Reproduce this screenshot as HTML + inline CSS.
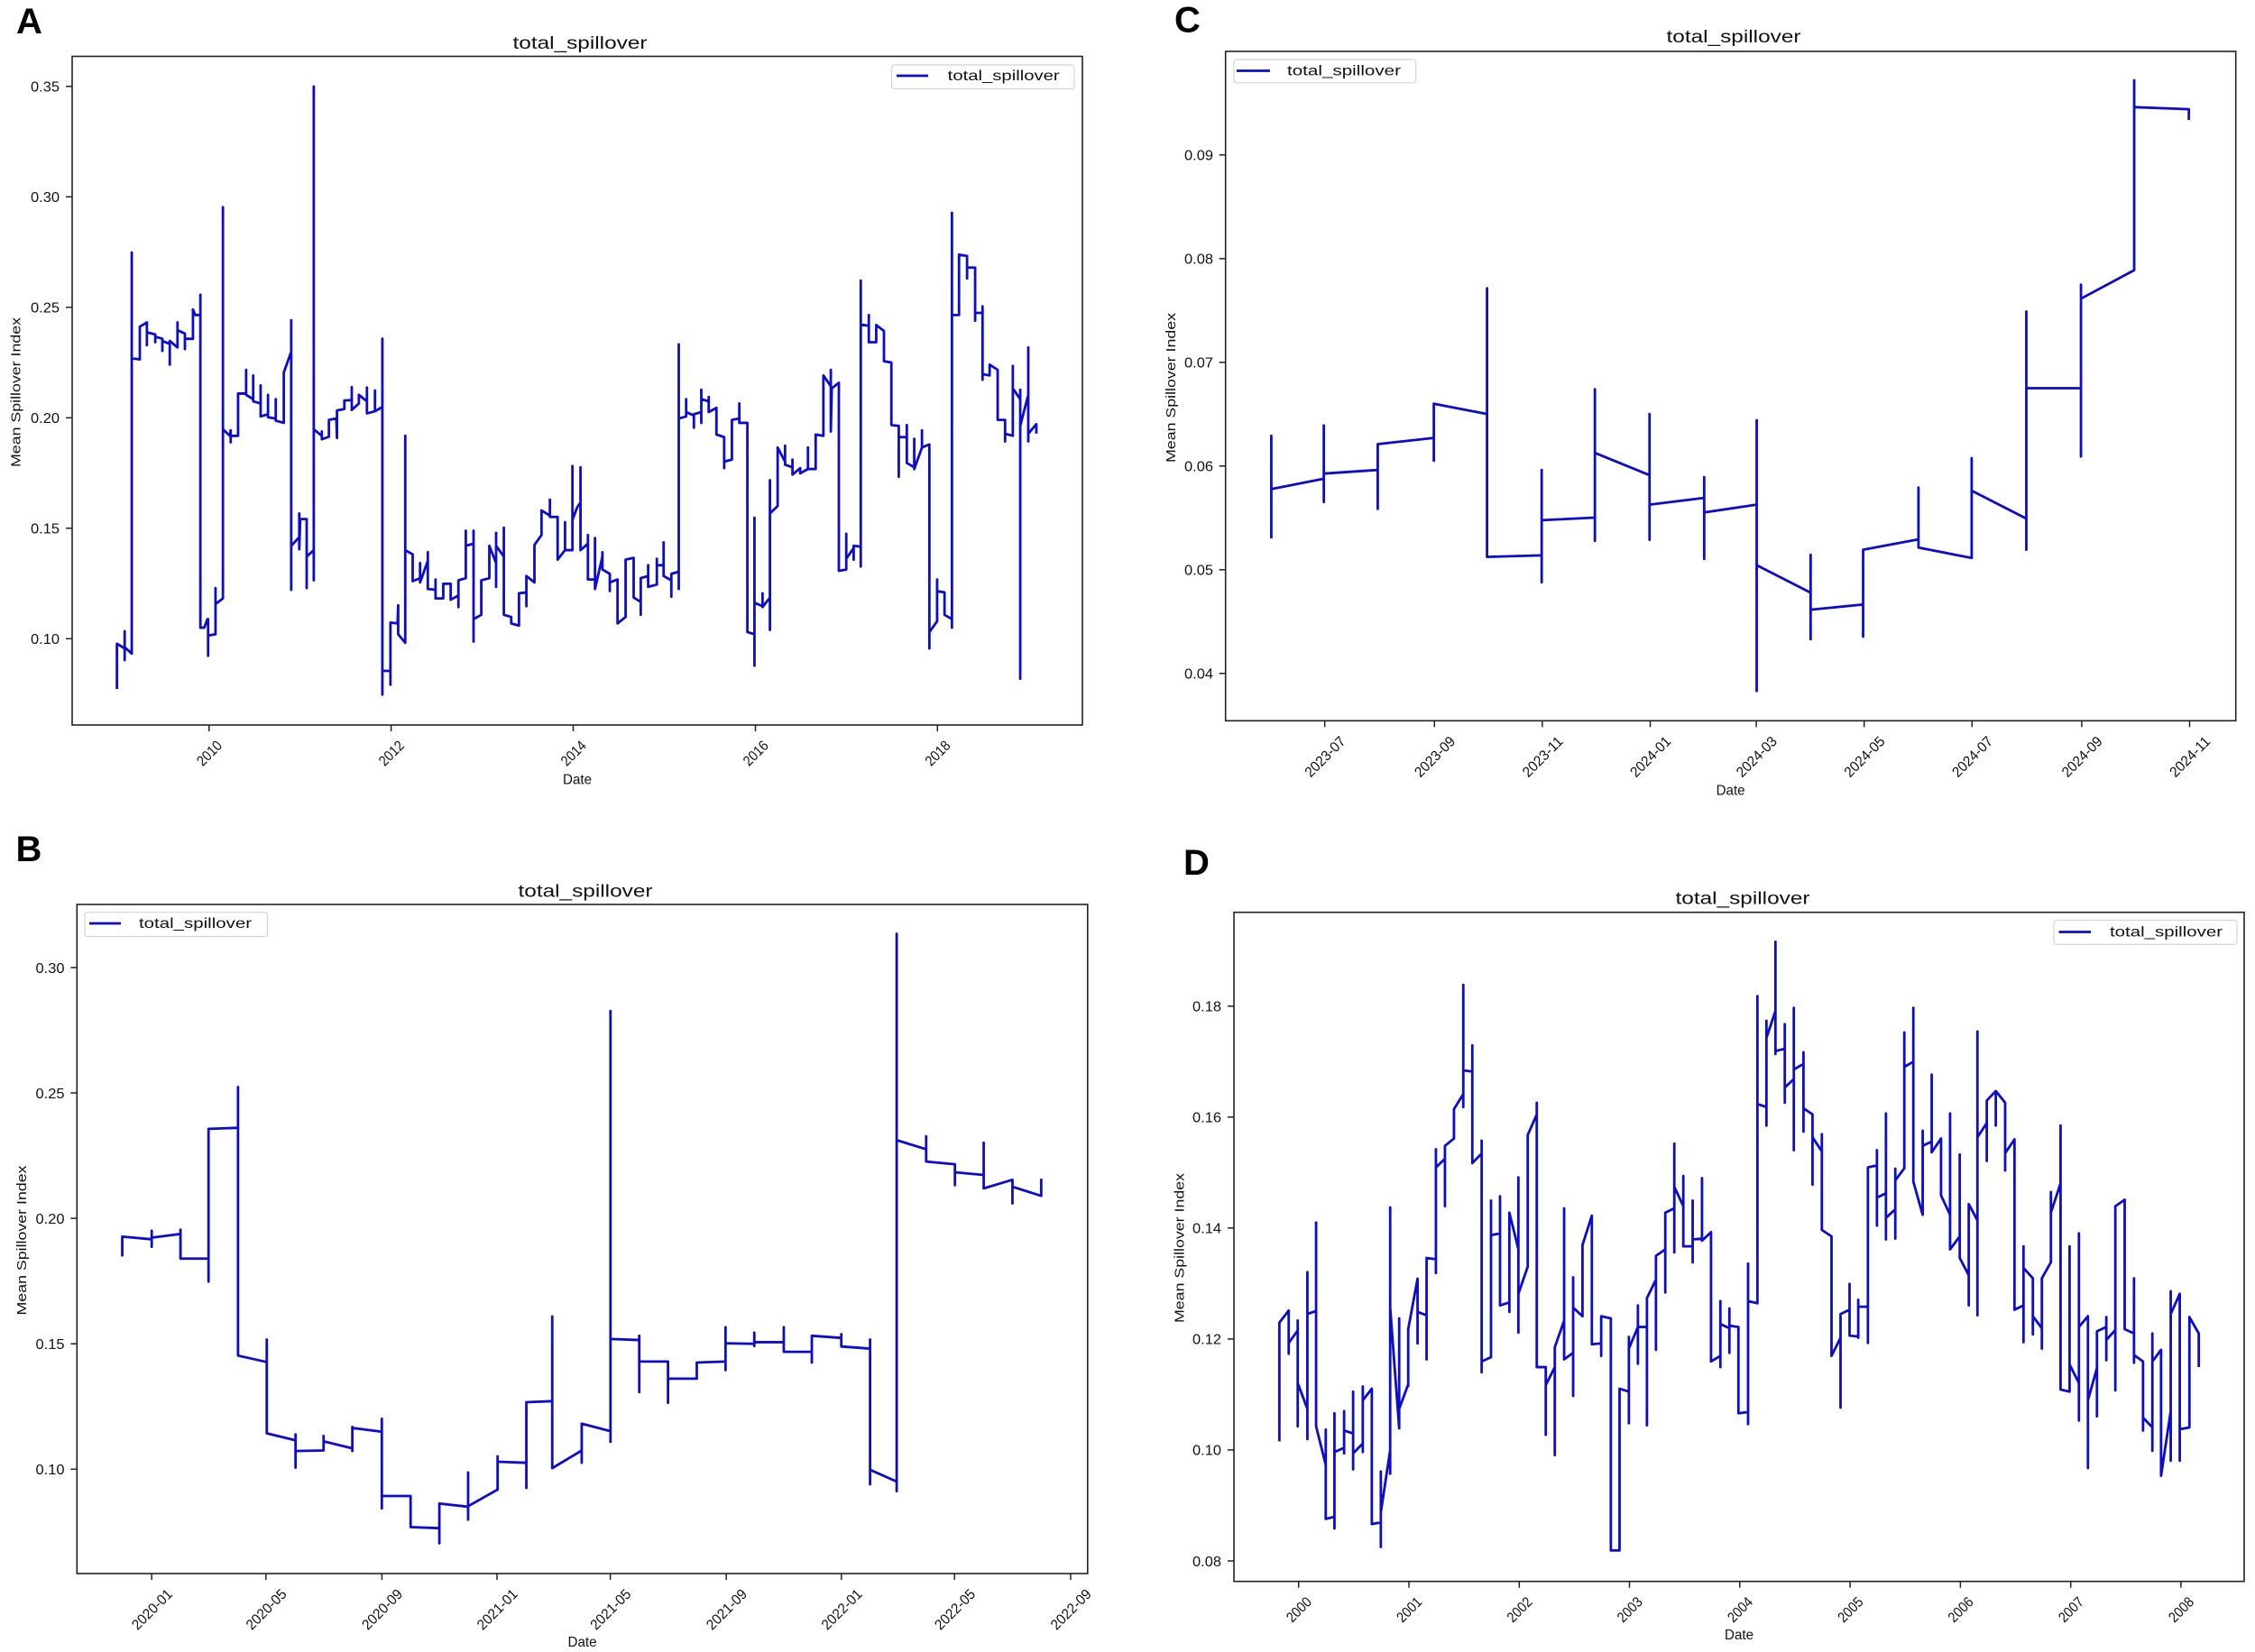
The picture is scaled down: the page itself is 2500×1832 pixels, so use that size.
<!DOCTYPE html>
<html><head><meta charset="utf-8"><style>
html,body{margin:0;padding:0;background:#fff;}
svg{display:block;}
text{font-family:"Liberation Sans","Noto Sans CJK SC",sans-serif;fill:#111;}
.tk{font-size:16px;}
.ttl{font-size:19px;}
.lab{font-size:16px;}
.yl{font-size:15px;}
.lg{font-size:16px;}
.let{font-size:40px;font-weight:bold;fill:#000;}
.ax{fill:none;stroke:#222;stroke-width:1.6;}
.tm{stroke:#222;stroke-width:1.5;}
.ser{fill:none;stroke:#0c0cd0;stroke-width:2.8;stroke-linejoin:round;vector-effect:non-scaling-stroke;}
.lgb{fill:#fff;stroke:#d4d4d4;stroke-width:1.2;}
.lgl{stroke:#0c0cd0;stroke-width:2.8;}
</style></head><body>
<svg width="2500" height="1832" viewBox="0 0 2500 1832" xmlns="http://www.w3.org/2000/svg">
<rect width="2500" height="1832" fill="#fff"/>

<!-- Panel letters -->
<text class="let" x="18" y="37">A</text>
<text class="let" x="17.5" y="955">B</text>
<text class="let" x="1302" y="35.6">C</text>
<text class="let" x="1312" y="970">D</text>

<!-- ================= PANEL A ================= -->
<text class="ttl" x="643" y="54" text-anchor="middle" textLength="149" lengthAdjust="spacingAndGlyphs">total_spillover</text>
<g transform="translate(80,60) scale(0.357143,0.478316)">
<polyline class="ser" points="139,1472 139,1367 163,1378 163,1338 163,1405 163,1375 185,1390 185,460 185,705 210,708 210,632 232,622 232,675 232,645 258,650 258,668 258,655 280,660 280,688 280,665 303,672 303,720 303,665 327,680 327,622 327,640 350,648 350,684 350,660 375,660 375,592 382,605 398,605 398,558 398,1330 410,1330 420,1310 422,1310 422,1395 422,1348 445,1345 445,1238 445,1275 468,1262 468,355 468,870 490,885 492,872 492,900 492,885 515,885 515,787 540,787 540,732 540,790 562,800 562,745 562,805 585,810 585,768 585,840 608,835 608,790 608,842 632,845 632,800 632,850 657,855 657,738 680,690 680,617 680,1242 680,1140 705,1120 705,1065 705,1148 708,1078 728,1078 728,1238 728,1165 750,1150 750,75 750,1220 750,870 775,885 775,875 775,893 797,887 797,848 820,845 822,890 822,826 845,823 845,803 868,802 868,772 868,825 890,810 890,790 915,805 915,773 915,833 940,828 940,780 940,828 963,818 963,660 963,1485 963,1430 988,1430 988,1462 988,1318 1010,1320 1012,1278 1012,1345 1034,1365 1034,885 1034,1150 1057,1160 1057,1222 1080,1215 1080,1180 1080,1225 1104,1175 1104,1155 1104,1240 1128,1242 1128,1218 1128,1262 1152,1262 1152,1228 1175,1228 1175,1265 1199,1255 1199,1282 1199,1220 1222,1215 1222,1105 1222,1140 1246,1135 1246,1105 1246,1362 1246,1310 1270,1300 1270,1220 1295,1215 1295,1140 1316,1180 1316,1110 1316,1235 1316,1140 1340,1165 1340,1098 1340,1300 1363,1305 1363,1320 1387,1325 1387,1250 1410,1248 1410,1280 1410,1210 1435,1225 1435,1138 1457,1115 1457,1058 1483,1070 1483,1033 1483,1073 1507,1073 1507,1172 1530,1150 1530,1085 1530,1150 1553,1150 1553,955 1553,1080 1568,1050"/>
</g>
<g transform="translate(640,60) scale(0.357143,0.478316)">
<polyline class="ser" points="0,1050 10,1040 10,958 10,1150 33,1135 33,1115 33,1218 55,1218 55,1122 55,1240 78,1165 78,1155 78,1195 101,1205 101,1245 101,1225 125,1218 125,1320 150,1305 150,1172 175,1168 175,1260 197,1270 197,1300 197,1215 220,1210 220,1185 220,1235 247,1230 247,1170 247,1185 268,1185 268,1132 268,1210 292,1220 292,1258 292,1205 315,1200 315,673 315,1240 315,845 338,840 338,800 338,830 362,838 362,866 362,835 385,830 385,778 385,855 385,800 408,805 408,795 408,830 432,820 432,882 456,888 456,960 456,945 480,940 480,848 503,845 503,810 503,855 528,855 528,1340 550,1345 550,1075 550,1418 550,1272 575,1280 575,1250 575,1282 598,1260 598,988 598,1335 598,1065 622,1048 622,912 645,945 645,908 645,952 668,958 668,940 668,975 692,960 692,972 716,962 716,912 716,962 740,962 740,882 764,885 764,745 787,770 787,732 787,875 790,775 812,762 812,1198 835,1195 835,1112 835,1170 858,1145 858,1172 858,1140 880,1142 880,525 880,1188 880,627 905,630 905,605 905,668 928,668 928,628 952,642 952,712 975,715 975,860 998,862 998,980 998,888 1023,888 1023,860 1023,948 1046,958 1046,892 1046,962 1070,912 1070,872 1070,912 1093,905 1093,1378 1093,1340 1117,1315 1117,1218 1117,1245 1140,1248 1140,1300 1163,1310 1163,368 1163,1330 1163,605 1185,605 1185,465 1210,468 1210,520 1210,495 1235,495 1235,618 1235,600 1258,600 1258,585 1258,755 1258,742 1280,745 1280,720 1305,732 1305,848 1328,848 1328,898 1328,880 1352,885 1352,723 1352,775 1375,800 1375,778 1375,1448 1375,862 1400,790 1400,680 1400,898 1400,880 1425,858 1425,880"/>
</g>
<rect class="ax" x="80" y="62.5" width="1120" height="741.5"/>
<!-- legend A -->
<rect class="lgb" x="988.5" y="72" width="202.5" height="26.5" rx="3"/>
<line class="lgl" x1="994" y1="84" x2="1029" y2="84"/>
<text class="lg" x="1050.7" y="89" textLength="124" lengthAdjust="spacingAndGlyphs">total_spillover</text>
<!-- y ticks A -->
<g class="tm">
<line x1="73" y1="95.8" x2="80" y2="95.8"/><line x1="73" y1="218.3" x2="80" y2="218.3"/><line x1="73" y1="340.8" x2="80" y2="340.8"/><line x1="73" y1="463.3" x2="80" y2="463.3"/><line x1="73" y1="585.8" x2="80" y2="585.8"/><line x1="73" y1="708.3" x2="80" y2="708.3"/>
<line x1="231.8" y1="804" x2="231.8" y2="811"/><line x1="433.6" y1="804" x2="433.6" y2="811"/><line x1="635.5" y1="804" x2="635.5" y2="811"/><line x1="837.5" y1="804" x2="837.5" y2="811"/><line x1="1039.3" y1="804" x2="1039.3" y2="811"/>
</g>
<g class="tk" text-anchor="end">
<text x="66" y="101.6" textLength="32" lengthAdjust="spacingAndGlyphs">0.35</text>
<text x="66" y="224.1" textLength="32" lengthAdjust="spacingAndGlyphs">0.30</text>
<text x="66" y="346.6" textLength="32" lengthAdjust="spacingAndGlyphs">0.25</text>
<text x="66" y="469.1" textLength="32" lengthAdjust="spacingAndGlyphs">0.20</text>
<text x="66" y="591.6" textLength="32" lengthAdjust="spacingAndGlyphs">0.15</text>
<text x="66" y="714.1" textLength="32" lengthAdjust="spacingAndGlyphs">0.10</text>
</g>
<g class="tk" text-anchor="middle">
<text x="231.8" y="840.8" transform="rotate(-45 231.8 835)" textLength="32" lengthAdjust="spacingAndGlyphs">2010</text>
<text x="433.6" y="840.8" transform="rotate(-45 433.6 835)" textLength="32" lengthAdjust="spacingAndGlyphs">2012</text>
<text x="635.5" y="840.8" transform="rotate(-45 635.5 835)" textLength="32" lengthAdjust="spacingAndGlyphs">2014</text>
<text x="837.5" y="840.8" transform="rotate(-45 837.5 835)" textLength="32" lengthAdjust="spacingAndGlyphs">2016</text>
<text x="1039.3" y="840.8" transform="rotate(-45 1039.3 835)" textLength="32" lengthAdjust="spacingAndGlyphs">2018</text>
</g>
<text class="lab" x="640" y="869.5" text-anchor="middle" textLength="32" lengthAdjust="spacingAndGlyphs">Date</text>
<text class="yl" x="22.5" y="435" text-anchor="middle" transform="rotate(-90 22.5 435)" textLength="166" lengthAdjust="spacingAndGlyphs">Mean Spillover Index</text>

<!-- ================= PANEL C ================= -->
<text class="ttl" x="1922" y="47" text-anchor="middle" textLength="149" lengthAdjust="spacingAndGlyphs">total_spillover</text>
<g transform="translate(1250,0) scale(0.797194,0.573980)">
<polyline class="ser" points="200,1040 200,842 200,945 273,925 273,822 273,970 273,915 348,908 348,983 348,858 426,846 426,890 426,780 500,800 500,557 500,1076 576,1073 576,908 576,1125 576,1005 650,1000 650,752 650,1045 650,875 726,918 726,800 726,1043 726,975 802,962 802,922 802,1080 802,990 875,975 875,812 875,1335 875,1092 950,1145 950,1072 950,1235 950,1178 1023,1168 1023,1230 1023,1062 1100,1042 1100,942 1100,1058 1174,1078 1174,885 1174,948 1250,1002 1250,1062 1250,602 1250,750 1326,750 1326,882 1326,550 1326,577 1400,522 1400,155 1400,207 1476,211 1476,232"/>
</g>
<rect class="ax" x="1358.7" y="57" width="1120" height="742.3"/>
<rect class="lgb" x="1368" y="66" width="201.7" height="25.8" rx="3"/>
<line class="lgl" x1="1371" y1="78.5" x2="1408" y2="78.5"/>
<text class="lg" x="1427" y="83.5" textLength="126" lengthAdjust="spacingAndGlyphs">total_spillover</text>
<g class="tm">
<line x1="1351.7" y1="171.8" x2="1358.7" y2="171.8"/><line x1="1351.7" y1="286.8" x2="1358.7" y2="286.8"/><line x1="1351.7" y1="401.8" x2="1358.7" y2="401.8"/><line x1="1351.7" y1="516.8" x2="1358.7" y2="516.8"/><line x1="1351.7" y1="631.8" x2="1358.7" y2="631.8"/><line x1="1351.7" y1="746.8" x2="1358.7" y2="746.8"/>
<line x1="1468.7" y1="799.3" x2="1468.7" y2="806.3"/><line x1="1590.3" y1="799.3" x2="1590.3" y2="806.3"/><line x1="1709.9" y1="799.3" x2="1709.9" y2="806.3"/><line x1="1829.5" y1="799.3" x2="1829.5" y2="806.3"/><line x1="1947.1" y1="799.3" x2="1947.1" y2="806.3"/><line x1="2066.7" y1="799.3" x2="2066.7" y2="806.3"/><line x1="2186.3" y1="799.3" x2="2186.3" y2="806.3"/><line x1="2307.9" y1="799.3" x2="2307.9" y2="806.3"/><line x1="2427.5" y1="799.3" x2="2427.5" y2="806.3"/>
</g>
<g class="tk" text-anchor="end">
<text x="1345" y="177.6" textLength="32" lengthAdjust="spacingAndGlyphs">0.09</text>
<text x="1345" y="292.6" textLength="32" lengthAdjust="spacingAndGlyphs">0.08</text>
<text x="1345" y="407.6" textLength="32" lengthAdjust="spacingAndGlyphs">0.07</text>
<text x="1345" y="522.6" textLength="32" lengthAdjust="spacingAndGlyphs">0.06</text>
<text x="1345" y="637.6" textLength="32" lengthAdjust="spacingAndGlyphs">0.05</text>
<text x="1345" y="752.6" textLength="32" lengthAdjust="spacingAndGlyphs">0.04</text>
</g>
<g class="tk" text-anchor="middle">
<text x="1468.7" y="844.6" transform="rotate(-45 1468.7 838.8)" textLength="56" lengthAdjust="spacingAndGlyphs">2023-07</text>
<text x="1590.3" y="844.6" transform="rotate(-45 1590.3 838.8)" textLength="56" lengthAdjust="spacingAndGlyphs">2023-09</text>
<text x="1709.9" y="844.6" transform="rotate(-45 1709.9 838.8)" textLength="56" lengthAdjust="spacingAndGlyphs">2023-11</text>
<text x="1829.5" y="844.6" transform="rotate(-45 1829.5 838.8)" textLength="56" lengthAdjust="spacingAndGlyphs">2024-01</text>
<text x="1947.1" y="844.6" transform="rotate(-45 1947.1 838.8)" textLength="56" lengthAdjust="spacingAndGlyphs">2024-03</text>
<text x="2066.7" y="844.6" transform="rotate(-45 2066.7 838.8)" textLength="56" lengthAdjust="spacingAndGlyphs">2024-05</text>
<text x="2186.3" y="844.6" transform="rotate(-45 2186.3 838.8)" textLength="56" lengthAdjust="spacingAndGlyphs">2024-07</text>
<text x="2307.9" y="844.6" transform="rotate(-45 2307.9 838.8)" textLength="56" lengthAdjust="spacingAndGlyphs">2024-09</text>
<text x="2427.5" y="844.6" transform="rotate(-45 2427.5 838.8)" textLength="56" lengthAdjust="spacingAndGlyphs">2024-11</text>
</g>
<text class="lab" x="1918.6" y="881.5" text-anchor="middle" textLength="32" lengthAdjust="spacingAndGlyphs">Date</text>
<text class="yl" x="1302.8" y="430" text-anchor="middle" transform="rotate(-90 1302.8 430)" textLength="166" lengthAdjust="spacingAndGlyphs">Mean Spillover Index</text>

<!-- ================= PANEL B ================= -->
<text class="ttl" x="649" y="994.5" text-anchor="middle" textLength="149" lengthAdjust="spacingAndGlyphs">total_spillover</text>
<g transform="translate(0,900) scale(0.797194,0.594388)">
<polyline class="ser" points="170,830 170,793 211,798 211,782 211,812 211,795 251,788 251,780 251,834 290,834 290,877 290,592 331,590 331,514 331,1015 371,1027 371,985 371,1160 411,1173 411,1162 411,1224 411,1193 450,1192 450,1165 450,1175 490,1188 490,1148 490,1193 490,1150 531,1157 531,1133 531,1300 531,1277 571,1277 571,1335 611,1337 611,1365 611,1291 651,1297 651,1233 651,1321 651,1296 692,1265 692,1203 692,1213 732,1215 732,1262 732,1102 768,1100 768,942 768,1225 809,1192 809,1215 809,1142 849,1156 849,1176 849,372 849,984 889,986 889,978 889,1083 889,1026 929,1026 929,1103 929,1058 969,1058 969,1028 1009,1026 1009,962 1009,1042 1009,992 1049,993 1049,972 1049,997 1049,990 1090,990 1090,962 1090,1008 1129,1008 1129,1028 1129,978 1170,982 1170,975 1170,998 1210,1002 1210,985 1210,1255 1210,1228 1247,1250 1247,1268 1247,228 1247,613 1288,630 1288,606 1288,653 1328,658 1328,697 1328,673 1368,678 1368,618 1368,703 1408,687 1408,731 1408,700 1448,717 1448,685"/>
</g>
<rect class="ax" x="85.3" y="1003" width="1120.5" height="742"/>
<rect class="lgb" x="94" y="1011.7" width="202.5" height="26.8" rx="3"/>
<line class="lgl" x1="99" y1="1024" x2="134" y2="1024"/>
<text class="lg" x="154" y="1029" textLength="125" lengthAdjust="spacingAndGlyphs">total_spillover</text>
<g class="tm">
<line x1="78.3" y1="1073" x2="85.3" y2="1073"/><line x1="78.3" y1="1212" x2="85.3" y2="1212"/><line x1="78.3" y1="1351.1" x2="85.3" y2="1351.1"/><line x1="78.3" y1="1490.2" x2="85.3" y2="1490.2"/><line x1="78.3" y1="1629.3" x2="85.3" y2="1629.3"/>
<line x1="168.2" y1="1745" x2="168.2" y2="1752"/><line x1="294.8" y1="1745" x2="294.8" y2="1752"/><line x1="423.4" y1="1745" x2="423.4" y2="1752"/><line x1="551" y1="1745" x2="551" y2="1752"/><line x1="676.6" y1="1745" x2="676.6" y2="1752"/><line x1="805.2" y1="1745" x2="805.2" y2="1752"/><line x1="932.8" y1="1745" x2="932.8" y2="1752"/><line x1="1058.3" y1="1745" x2="1058.3" y2="1752"/><line x1="1187" y1="1745" x2="1187" y2="1752"/>
</g>
<g class="tk" text-anchor="end">
<text x="71.5" y="1078.8" textLength="32" lengthAdjust="spacingAndGlyphs">0.30</text>
<text x="71.5" y="1217.8" textLength="32" lengthAdjust="spacingAndGlyphs">0.25</text>
<text x="71.5" y="1356.9" textLength="32" lengthAdjust="spacingAndGlyphs">0.20</text>
<text x="71.5" y="1496" textLength="32" lengthAdjust="spacingAndGlyphs">0.15</text>
<text x="71.5" y="1635.1" textLength="32" lengthAdjust="spacingAndGlyphs">0.10</text>
</g>
<g class="tk" text-anchor="middle">
<text x="168.2" y="1790.3" transform="rotate(-45 168.2 1784.5)" textLength="56" lengthAdjust="spacingAndGlyphs">2020-01</text>
<text x="294.8" y="1790.3" transform="rotate(-45 294.8 1784.5)" textLength="56" lengthAdjust="spacingAndGlyphs">2020-05</text>
<text x="423.4" y="1790.3" transform="rotate(-45 423.4 1784.5)" textLength="56" lengthAdjust="spacingAndGlyphs">2020-09</text>
<text x="551" y="1790.3" transform="rotate(-45 551 1784.5)" textLength="56" lengthAdjust="spacingAndGlyphs">2021-01</text>
<text x="676.6" y="1790.3" transform="rotate(-45 676.6 1784.5)" textLength="56" lengthAdjust="spacingAndGlyphs">2021-05</text>
<text x="805.2" y="1790.3" transform="rotate(-45 805.2 1784.5)" textLength="56" lengthAdjust="spacingAndGlyphs">2021-09</text>
<text x="932.8" y="1790.3" transform="rotate(-45 932.8 1784.5)" textLength="56" lengthAdjust="spacingAndGlyphs">2022-01</text>
<text x="1058.3" y="1790.3" transform="rotate(-45 1058.3 1784.5)" textLength="56" lengthAdjust="spacingAndGlyphs">2022-05</text>
<text x="1187" y="1790.3" transform="rotate(-45 1187 1784.5)" textLength="56" lengthAdjust="spacingAndGlyphs">2022-09</text>
</g>
<text class="lab" x="645.5" y="1826" text-anchor="middle" textLength="32" lengthAdjust="spacingAndGlyphs">Date</text>
<text class="yl" x="29" y="1375.5" text-anchor="middle" transform="rotate(-90 29 1375.5)" textLength="166" lengthAdjust="spacingAndGlyphs">Mean Spillover Index</text>

<!-- ================= PANEL D ================= -->
<text class="ttl" x="1932" y="1002.5" text-anchor="middle" textLength="149" lengthAdjust="spacingAndGlyphs">total_spillover</text>
<g transform="translate(1368,1010) scale(0.357143,0.478316)">
<polyline class="ser" points="141,1230 141,955 170,927 170,1027 170,1002 198,973 198,950 198,1195 198,1095 228,1155 228,838 228,1225 228,935 255,928 255,723 255,1195 285,1285 285,1203 285,1410 312,1405 312,1432 312,1165 312,1255 342,1245 342,1160 342,1258 342,1205 370,1212 370,1115 370,1295 370,1258 400,1235 400,1103 400,1255 400,1135 428,1108 428,1422 456,1418 456,1300 456,1475 456,1395 485,1250 485,688 485,1305 485,920 513,1200 513,945 513,1155 541,1098 541,972 541,1102 541,970 570,853 570,1003 570,930 598,938 598,1040 598,805 627,808 627,840 627,553 627,595 655,575 655,685 655,545 683,528 683,460 712,425 712,455 712,172 712,370 740,373 740,312 740,585 769,563 769,533 769,1070 769,1045 798,1035 798,672 798,752 826,748 826,662 826,915 855,908 855,930 855,700 883,785 883,618 883,978 883,888 912,825 912,520 940,472 940,445 940,1058 968,1058 968,1215 968,1100 996,1058 996,1262 996,1012 1025,950 1025,690 1025,1040 1053,1025 1053,1125 1053,850 1053,920 1082,940 1082,775 1111,707 1111,1005 1140,1003 1140,1032 1140,940 1170,945 1170,1483 1197,1483 1197,1108 1226,1115 1226,1188 1226,988 1226,1015 1254,965 1254,915 1254,1050 1254,965 1282,965 1282,1193 1282,898 1310,855 1310,1018 1310,800 1339,785 1339,885 1339,700 1367,690 1367,540 1367,792 1367,640 1395,685 1395,615 1395,778 1424,778 1424,672 1424,815 1424,762 1453,760 1453,620 1453,765 1481,745 1481,1045 1510,1032 1510,905 1510,1058 1510,958 1538,968 1538,922 1538,1025 1538,962 1566,965 1566,1165 1568,1165"/>
</g>
<g transform="translate(1928,1010) scale(0.357143,0.478316)">
<polyline class="ser" points="0,1165 28,1162 28,818 28,1190 28,905 57,910 57,198 57,448 85,455 85,498 85,255 85,295 113,232 113,72 113,332 113,325 142,320 142,263 142,445 142,410 170,390 170,225 170,555 170,368 200,355 200,328 200,512 200,458 228,472 228,635 228,525 257,558 257,518 257,740 287,755 287,1032 315,990 315,1152 315,935 343,925 343,865 343,985 370,987 370,902 370,990 370,918 400,918 400,1002 400,595 428,590 428,555 428,730 428,665 456,655 456,470 456,762 456,712 485,692 485,598 485,760 485,625 513,597 513,282 513,362 541,350 541,225 541,628 570,705 570,510 570,545 598,535 598,380 598,560 627,528 627,660 655,705 655,470 655,785 685,755 685,565 685,805 713,845 713,915 713,680 740,718 740,280 740,938 740,525 769,492 769,580 769,440 797,418 797,498 797,418 826,445 826,602 826,562 855,530 855,925 883,915 883,778 883,1000 883,828 912,852 912,982 912,940 940,968 940,855 940,1015 940,852 968,815 968,652 968,700 998,632 998,498 998,1110 1026,1115 1026,778 1026,1052 1055,1095 1055,748 1055,1182 1055,965 1083,940 1083,1292 1083,1135 1111,1060 1111,1172 1111,975 1140,965 1140,942 1140,1042 1140,995 1168,972 1168,1112 1168,685 1197,670 1197,970 1226,980 1226,852 1226,1048 1226,1030 1254,1045 1254,1205 1254,1175 1283,1198 1283,980 1283,1252 1283,1045 1310,1018 1310,1310 1340,1160 1340,882 1340,1275 1340,935 1368,888 1368,1275 1368,1202 1398,1198 1398,942 1427,980 1427,1058"/>
</g>
<rect class="ax" x="1368" y="1011.7" width="1120" height="742"/>
<rect class="lgb" x="2277" y="1020.5" width="203" height="26.8" rx="3"/>
<line class="lgl" x1="2282.6" y1="1033.5" x2="2318" y2="1033.5"/>
<text class="lg" x="2339" y="1038.5" textLength="125" lengthAdjust="spacingAndGlyphs">total_spillover</text>
<g class="tm">
<line x1="1361" y1="1115.8" x2="1368" y2="1115.8"/><line x1="1361" y1="1238.8" x2="1368" y2="1238.8"/><line x1="1361" y1="1361.8" x2="1368" y2="1361.8"/><line x1="1361" y1="1484.9" x2="1368" y2="1484.9"/><line x1="1361" y1="1607.9" x2="1368" y2="1607.9"/><line x1="1361" y1="1731" x2="1368" y2="1731"/>
<line x1="1439.7" y1="1753.7" x2="1439.7" y2="1760.7"/><line x1="1562" y1="1753.7" x2="1562" y2="1760.7"/><line x1="1684.3" y1="1753.7" x2="1684.3" y2="1760.7"/><line x1="1806.5" y1="1753.7" x2="1806.5" y2="1760.7"/><line x1="1928.8" y1="1753.7" x2="1928.8" y2="1760.7"/><line x1="2051.1" y1="1753.7" x2="2051.1" y2="1760.7"/><line x1="2173.4" y1="1753.7" x2="2173.4" y2="1760.7"/><line x1="2295.7" y1="1753.7" x2="2295.7" y2="1760.7"/><line x1="2417.9" y1="1753.7" x2="2417.9" y2="1760.7"/>
</g>
<g class="tk" text-anchor="end">
<text x="1354" y="1121.6" textLength="32" lengthAdjust="spacingAndGlyphs">0.18</text>
<text x="1354" y="1244.6" textLength="32" lengthAdjust="spacingAndGlyphs">0.16</text>
<text x="1354" y="1367.6" textLength="32" lengthAdjust="spacingAndGlyphs">0.14</text>
<text x="1354" y="1490.7" textLength="32" lengthAdjust="spacingAndGlyphs">0.12</text>
<text x="1354" y="1613.7" textLength="32" lengthAdjust="spacingAndGlyphs">0.10</text>
<text x="1354" y="1736.8" textLength="32" lengthAdjust="spacingAndGlyphs">0.08</text>
</g>
<g class="tk" text-anchor="middle">
<text x="1439.7" y="1790.5" transform="rotate(-45 1439.7 1784.7)" textLength="32" lengthAdjust="spacingAndGlyphs">2000</text>
<text x="1562" y="1790.5" transform="rotate(-45 1562 1784.7)" textLength="32" lengthAdjust="spacingAndGlyphs">2001</text>
<text x="1684.3" y="1790.5" transform="rotate(-45 1684.3 1784.7)" textLength="32" lengthAdjust="spacingAndGlyphs">2002</text>
<text x="1806.5" y="1790.5" transform="rotate(-45 1806.5 1784.7)" textLength="32" lengthAdjust="spacingAndGlyphs">2003</text>
<text x="1928.8" y="1790.5" transform="rotate(-45 1928.8 1784.7)" textLength="32" lengthAdjust="spacingAndGlyphs">2004</text>
<text x="2051.1" y="1790.5" transform="rotate(-45 2051.1 1784.7)" textLength="32" lengthAdjust="spacingAndGlyphs">2005</text>
<text x="2173.4" y="1790.5" transform="rotate(-45 2173.4 1784.7)" textLength="32" lengthAdjust="spacingAndGlyphs">2006</text>
<text x="2295.7" y="1790.5" transform="rotate(-45 2295.7 1784.7)" textLength="32" lengthAdjust="spacingAndGlyphs">2007</text>
<text x="2417.9" y="1790.5" transform="rotate(-45 2417.9 1784.7)" textLength="32" lengthAdjust="spacingAndGlyphs">2008</text>
</g>
<text class="lab" x="1928" y="1818" text-anchor="middle" textLength="32" lengthAdjust="spacingAndGlyphs">Date</text>
<text class="yl" x="1312.4" y="1384" text-anchor="middle" transform="rotate(-90 1312.4 1384)" textLength="166" lengthAdjust="spacingAndGlyphs">Mean Spillover Index</text>
</svg>
</body></html>
